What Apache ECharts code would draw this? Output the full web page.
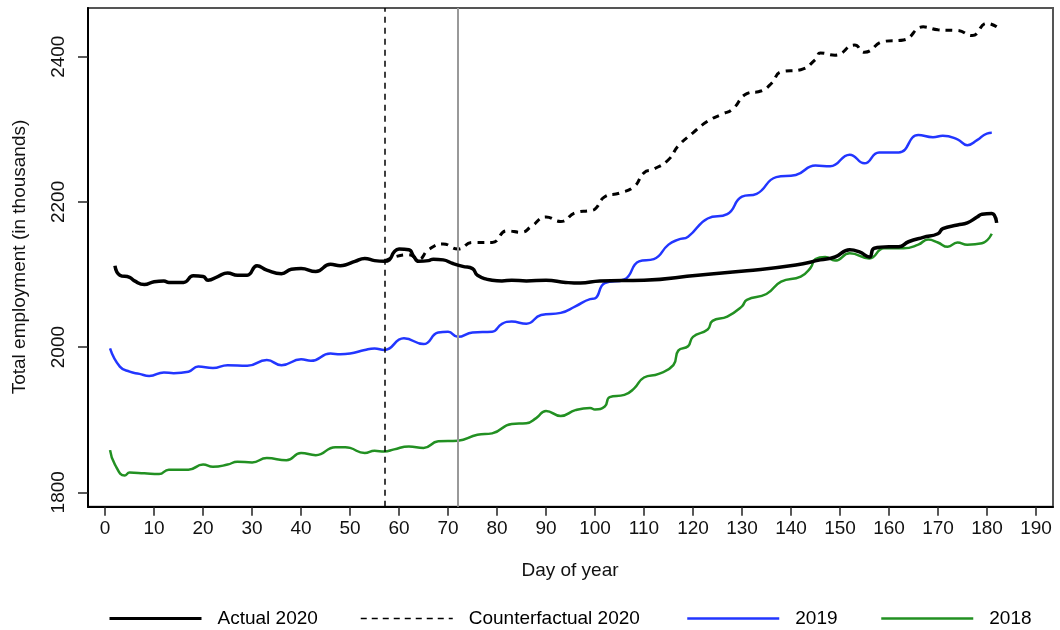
<!DOCTYPE html>
<html>
<head>
<meta charset="utf-8">
<script src="https://cdn.jsdelivr.net/npm/echarts@6/dist/echarts.min.js"></script>
<style>
  html, body { margin: 0; padding: 0; background: #fff; }
  #chart { width: 1060px; height: 630px; }
</style>
</head>
<body>
<div id="chart"></div>
<script>
// ---- data ----
const xTickLabels = [0,10,20,30,40,50,60,70,80,90,100,110,120,130,140,150,160,170,180,190];
const yTickLabels = [1800, 2000, 2200, 2400];
const seriesNames = ['Actual 2020', 'Counterfactual 2020', '2019', '2018'];
const markerDays = [57, 72];

const actualDays = [2,3,5,6,8,10,12,13,16,18,20,21,23,25,27,29,31,33,36,38,40,43,46,48,49,51,53,55,57,58,59,60,62,63,64,66,67,69,71,73,75,76,79,81,83,86,90,94,97,101,110,121,131,141,146,149,152,154,156,157,160,162,164,167,170,171,174,176,178,179,181,182];
const actualValues = [2112,2099,2096,2091,2086,2090,2091,2089,2089,2098,2097,2092,2097,2102,2099,2099,2112,2106,2101,2107,2108,2104,2114,2112,2113,2118,2122,2119,2118,2120,2131,2135,2134,2125,2118,2119,2121,2120,2115,2111,2108,2099,2092,2091,2092,2091,2092,2089,2088,2091,2092,2099,2105,2113,2120,2124,2134,2131,2124,2136,2138,2138,2145,2151,2156,2163,2168,2171,2179,2183,2184,2171];

const counterDays = [57,59,62,64,66,69,72,75,79,82,85,87,90,93,96,99,100,102,105,108,110,112,115,117,120,123,126,128,131,134,136,138,142,145,146,149,153,155,159,163,167,170,174,177,180,182];
const counterValues = [2118,2124,2127,2121,2134,2142,2135,2144,2144,2160,2158,2166,2179,2173,2185,2188,2190,2207,2212,2221,2240,2245,2258,2277,2295,2311,2321,2327,2349,2353,2363,2379,2382,2396,2405,2402,2416,2406,2421,2423,2441,2437,2436,2429,2446,2441];

const y2019Days = [1,3,5,7,9,12,14,17,19,22,25,29,33,36,40,42,46,48,50,53,55,57,61,65,68,70,72,75,79,81,83,86,89,93,96,99,100,102,106,109,112,115,117,119,123,127,130,133,137,141,145,148,152,155,158,162,166,169,171,174,176,178,180,181];
const y2019Values = [1998,1973,1966,1963,1960,1965,1964,1966,1973,1971,1975,1974,1982,1975,1983,1981,1991,1990,1991,1996,1998,1996,2012,2004,2020,2021,2014,2020,2021,2032,2035,2032,2044,2047,2056,2066,2067,2088,2093,2118,2121,2141,2148,2152,2177,2183,2207,2211,2234,2237,2250,2249,2265,2253,2268,2268,2292,2289,2291,2286,2278,2285,2294,2295];

const y2018Days = [1,2,4,5,8,11,13,15,17,20,22,25,27,30,33,37,40,43,47,49,50,53,55,57,59,62,65,68,72,76,79,83,86,88,90,93,96,99,100,102,103,106,108,110,113,116,117,119,120,123,124,127,130,131,135,138,142,144,145,147,149,152,156,159,163,166,168,170,172,174,176,179,181];
const y2018Values = [1858,1838,1823,1827,1826,1825,1831,1831,1831,1838,1835,1838,1842,1841,1847,1844,1854,1851,1862,1862,1861,1854,1857,1856,1859,1863,1861,1870,1871,1879,1881,1894,1895,1902,1912,1905,1913,1916,1914,1918,1931,1934,1943,1958,1963,1975,1995,2001,2014,2024,2036,2042,2056,2065,2073,2090,2097,2109,2121,2124,2119,2129,2122,2136,2136,2141,2148,2144,2138,2144,2141,2143,2156];

// ---- build ----
function zip(xs, ys) { return xs.map((x, i) => [x, ys[i]]); }
const FONT = 'Liberation Sans, Arial, Helvetica, sans-serif';
const colors = { actual: '#000000', counter: '#000000', y2019: '#2236ff', y2018: '#229022' };

const chart = echarts.init(document.getElementById('chart'), null, { renderer: 'canvas' });

function legendFor(name, left, lineStyle) {
  return {
    left: left, top: 609, padding: 0, itemWidth: 92, itemHeight: 14,
    selectedMode: false,
    itemStyle: { opacity: 0 },
    data: [{ name: name, lineStyle: lineStyle, itemStyle: { opacity: 0 } }],
    textStyle: { fontSize: 19, fontFamily: FONT, color: '#000', padding: [0, 0, 0, 11] }
  };
}

const option = {
  animation: false,
  backgroundColor: '#fff',
  grid: [
    { left: 88, top: 8, width: 965, height: 498.7, show: true, borderColor: '#555', borderWidth: 2, backgroundColor: 'transparent' },
    { left: 105, top: 56.7, width: 931, height: 435.6 }
  ],
  xAxis: [
    { gridIndex: 0, type: 'value', min: -3.5, max: 193.5,
      axisLine: { show: true, onZero: false, lineStyle: { color: '#000', width: 2 } },
      axisTick: { show: false }, axisLabel: { show: false }, splitLine: { show: false } },
    { gridIndex: 1, type: 'value', min: xTickLabels[0], max: xTickLabels[xTickLabels.length - 1], interval: 10,
      position: 'bottom', offset: 14.4,
      axisLine: { show: false, onZero: false },
      axisTick: { show: true, length: 9, lineStyle: { color: '#222', width: 1.5 } },
      axisLabel: { fontSize: 19, fontFamily: FONT, color: '#111', margin: 13, formatter: v => String(v) },
      splitLine: { show: false } }
  ],
  yAxis: [
    { gridIndex: 0, type: 'value', min: 1780, max: 2467,
      axisLine: { show: true, onZero: false, lineStyle: { color: '#000', width: 2 } },
      axisTick: { show: false }, axisLabel: { show: false }, splitLine: { show: false } },
    { gridIndex: 1, type: 'value', min: yTickLabels[0], max: yTickLabels[yTickLabels.length - 1], interval: 200,
      position: 'left', offset: 17,
      axisLine: { show: false, onZero: false },
      axisTick: { show: true, length: 10, lineStyle: { color: '#222', width: 1.5 } },
      axisLabel: { fontSize: 19, fontFamily: FONT, color: '#111', rotate: 90, margin: 20, formatter: v => String(v) },
      splitLine: { show: false } }
  ],
  legend: [
    legendFor(seriesNames[0], 108, { color: colors.actual, width: 3 }),
    legendFor(seriesNames[1], 360, { color: colors.counter, width: 1.5, type: [6, 5] }),
    legendFor(seriesNames[2], 686, { color: colors.y2019, width: 2.5 }),
    legendFor(seriesNames[3], 880, { color: colors.y2018, width: 2.5 })
  ],
  graphic: [
    { type: 'text', x: 20, y: 257, rotation: Math.PI / 2,
      style: { text: 'Total employment (in thousands)', font: '19px ' + FONT, fill: '#111', align: 'center', verticalAlign: 'middle' } },
    { type: 'text', x: 570, y: 571,
      style: { text: 'Day of year', font: '19px ' + FONT, fill: '#111', align: 'center', verticalAlign: 'middle' } }
  ],
  series: [
    { name: seriesNames[0], type: 'line', xAxisIndex: 0, yAxisIndex: 0, data: zip(actualDays, actualValues),
      symbol: 'none', smooth: 0.5, lineStyle: { color: colors.actual, width: 3.5 }, itemStyle: { color: colors.actual }, z: 5,
      markLine: { silent: true, symbol: ['none', 'none'], label: { show: false }, animation: false,
        data: [
          { xAxis: markerDays[0], lineStyle: { color: '#000', width: 1.5, type: [6, 5] } },
          { xAxis: markerDays[1], lineStyle: { color: '#999', width: 2, type: 'solid' } }
        ] } },
    { name: seriesNames[1], type: 'line', xAxisIndex: 0, yAxisIndex: 0, data: zip(counterDays, counterValues),
      symbol: 'none', smooth: 0.5, lineStyle: { color: colors.counter, width: 3, type: [7, 6] }, itemStyle: { color: colors.counter }, z: 4 },
    { name: seriesNames[2], type: 'line', xAxisIndex: 0, yAxisIndex: 0, data: zip(y2019Days, y2019Values),
      symbol: 'none', smooth: 0.5, lineStyle: { color: colors.y2019, width: 2.5 }, itemStyle: { color: colors.y2019 }, z: 3 },
    { name: seriesNames[3], type: 'line', xAxisIndex: 0, yAxisIndex: 0, data: zip(y2018Days, y2018Values),
      symbol: 'none', smooth: 0.5, lineStyle: { color: colors.y2018, width: 2.5 }, itemStyle: { color: colors.y2018 }, z: 3 }
  ]
};
chart.setOption(option);
</script>
</body>
</html>
